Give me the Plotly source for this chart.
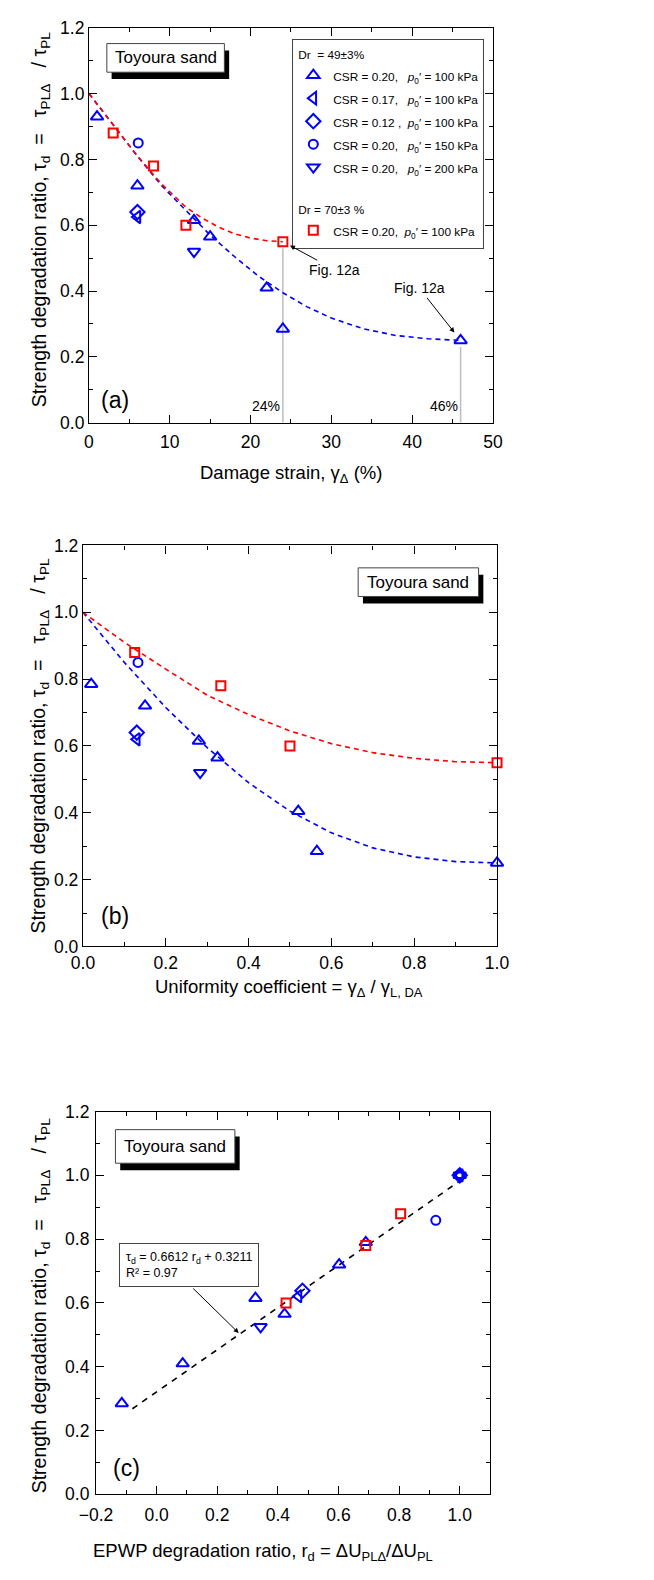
import plotly.graph_objects as go

# ---------------- DATA ----------------
# Panel (a): damage strain (%) vs strength degradation ratio
a_up_x = [1, 6, 13, 15, 22, 24, 46]
a_up_y = [0.93, 0.72, 0.615, 0.565, 0.41, 0.285, 0.25]
a_left_x = [6]
a_left_y = [0.625]
a_dia_x = [6]
a_dia_y = [0.64]
a_circ_x = [6.1]
a_circ_y = [0.85]
a_down_x = [13]
a_down_y = [0.52]
a_sq_x = [3, 8, 12, 24]
a_sq_y = [0.88, 0.78, 0.60, 0.55]
# trend curves
a_blue_fit_x = [0, 3, 6, 9, 12, 15, 18, 21, 24, 27, 30, 34, 38, 42, 46]
a_blue_fit_y = [1.0, 0.905, 0.81, 0.72, 0.645, 0.57, 0.505, 0.445, 0.395, 0.352, 0.318, 0.285, 0.265, 0.255, 0.25]
a_red_fit_x = [0, 3, 6, 9, 12, 14, 16, 18, 20, 22, 24]
a_red_fit_y = [1.0, 0.905, 0.81, 0.725, 0.655, 0.622, 0.595, 0.574, 0.561, 0.553, 0.55]

# Panel (b): uniformity coefficient
b_up_x = [0.02, 0.15, 0.28, 0.325, 0.52, 0.565, 1.0]
b_up_y = [0.785, 0.72, 0.615, 0.565, 0.405, 0.285, 0.25]
b_left_x = [0.13]
b_left_y = [0.62]
b_dia_x = [0.13]
b_dia_y = [0.64]
b_circ_x = [0.133]
b_circ_y = [0.85]
b_down_x = [0.283]
b_down_y = [0.52]
b_sq_x = [0.125, 0.333, 0.5, 1.0]
b_sq_y = [0.88, 0.78, 0.60, 0.55]
b_blue_fit_x = [0, 0.1, 0.2, 0.3, 0.4, 0.5, 0.6, 0.7, 0.8, 0.9, 1.0]
b_blue_fit_y = [1.0, 0.85, 0.715, 0.595, 0.49, 0.405, 0.34, 0.295, 0.268, 0.254, 0.25]
b_red_fit_x = [0, 0.1, 0.2, 0.3, 0.4, 0.5, 0.6, 0.7, 0.8, 0.9, 1.0]
b_red_fit_y = [1.0, 0.91, 0.83, 0.752, 0.694, 0.645, 0.607, 0.58, 0.563, 0.553, 0.55]

# Panel (c): EPWP degradation ratio
c_up_x = [-0.115, 0.086, 0.326, 0.422, 0.602, 0.69, 1.0]
c_up_y = [0.285, 0.41, 0.615, 0.565, 0.72, 0.79, 1.0]
c_left_x = [0.468, 1.0]
c_left_y = [0.621, 1.0]
c_dia_x = [0.481, 1.0]
c_dia_y = [0.638, 1.0]
c_circ_x = [0.921, 1.0]
c_circ_y = [0.859, 1.0]
c_down_x = [0.343, 1.0]
c_down_y = [0.525, 1.0]
c_sq_x = [0.427, 0.69, 0.805]
c_sq_y = [0.60, 0.78, 0.88]
fit_slope = 0.6612
fit_intercept = 0.3211
fit_r2 = 0.97
fit_x_range = [-0.08, 1.0]

group1_title = "Dr  = 49±3%"
group2_title = "Dr = 70±3 %"
legend_csr = ["0.20,  ", "0.17,  ", "0.12 , ", "0.20,  ", "0.20,  ", "0.20, "]
legend_p0 = ["100", "100", "100", "150", "200", "100"]

# ---------------- STYLE ----------------
W, H = 654, 1580
FONT = "Liberation Sans, Arial, sans-serif"
BLUE = "#0000FF"
RED = "#FF0000"
LEG_FS = 11.8


def px(x):
    return x / W


def py(y):
    return 1 - y / H


def leg_name(i):
    return (f'<span style="font-size:{LEG_FS}px">CSR = {legend_csr[i]} '
            f'<i>p</i><sub>0</sub>′ = {legend_p0[i]} kPa</span>')


fig = go.Figure()

sym = {
    "up": "triangle-up-open",
    "left": "triangle-left-open",
    "dia": "diamond-open",
    "circ": "circle-open",
    "down": "triangle-down-open",
    "sq": "square-open",
}
sizes = {"up": 11, "left": 11, "dia": 11, "circ": 9, "down": 11, "sq": 9}


def add_pts(x, y, kind, color, xa, ya, name=None, show=False, group=None, gtitle=None):
    fig.add_trace(go.Scatter(
        x=x, y=y, mode="markers", xaxis=xa, yaxis=ya,
        marker=dict(symbol=sym[kind], size=sizes[kind], color=color,
                    line=dict(color=color, width=2)),
        name=name or "", showlegend=show, legendgroup=group,
        legendgrouptitle=dict(text=gtitle, font=dict(size=LEG_FS, family=FONT, color="black")) if gtitle else None,
        cliponaxis=False,
    ))


def add_line(x, y, color, xa, ya, dash="5px,4px"):
    fig.add_trace(go.Scatter(x=x, y=y, mode="lines", xaxis=xa, yaxis=ya,
                             line=dict(color=color, width=1.6, dash=dash),
                             showlegend=False, hoverinfo="skip"))


# Panel a
add_line(a_blue_fit_x, a_blue_fit_y, BLUE, "x", "y")
add_line(a_red_fit_x, a_red_fit_y, RED, "x", "y")
add_pts(a_up_x, a_up_y, "up", BLUE, "x", "y", leg_name(0), True, "g1", group1_title)
add_pts(a_left_x, a_left_y, "left", BLUE, "x", "y", leg_name(1), True, "g1")
add_pts(a_dia_x, a_dia_y, "dia", BLUE, "x", "y", leg_name(2), True, "g1")
add_pts(a_circ_x, a_circ_y, "circ", BLUE, "x", "y", leg_name(3), True, "g1")
add_pts(a_down_x, a_down_y, "down", BLUE, "x", "y", leg_name(4), True, "g1")
add_pts(a_sq_x, a_sq_y, "sq", RED, "x", "y", leg_name(5), True, "g2", group2_title)

# Panel b
add_line(b_blue_fit_x, b_blue_fit_y, BLUE, "x2", "y2")
add_line(b_red_fit_x, b_red_fit_y, RED, "x2", "y2")
add_pts(b_up_x, b_up_y, "up", BLUE, "x2", "y2")
add_pts(b_left_x, b_left_y, "left", BLUE, "x2", "y2")
add_pts(b_dia_x, b_dia_y, "dia", BLUE, "x2", "y2")
add_pts(b_circ_x, b_circ_y, "circ", BLUE, "x2", "y2")
add_pts(b_down_x, b_down_y, "down", BLUE, "x2", "y2")
add_pts(b_sq_x, b_sq_y, "sq", RED, "x2", "y2")

# Panel c
fit_y = [fit_slope * v + fit_intercept for v in fit_x_range]
add_line(fit_x_range, fit_y, "black", "x3", "y3", dash="6px,6px")
add_pts(c_up_x, c_up_y, "up", BLUE, "x3", "y3")
add_pts(c_left_x, c_left_y, "left", BLUE, "x3", "y3")
add_pts(c_dia_x, c_dia_y, "dia", BLUE, "x3", "y3")
add_pts(c_circ_x, c_circ_y, "circ", BLUE, "x3", "y3")
add_pts(c_down_x, c_down_y, "down", BLUE, "x3", "y3")
add_pts(c_sq_x, c_sq_y, "sq", RED, "x3", "y3")

# ---------------- AXES ----------------
common = dict(showline=True, linecolor="black", linewidth=1.2, mirror="allticks",
              ticks="inside", ticklen=8, tickwidth=1.2, tickcolor="black",
              showgrid=False, zeroline=False,
              tickfont=dict(size=17.5, color="black", family=FONT),
              minor=dict(ticks="inside", ticklen=4, tickwidth=1.2, tickcolor="black", showgrid=False))

yaxis_common = dict(common, range=[0, 1.2], tick0=0, dtick=0.2, tickformat=".1f")

fig.update_layout(
    xaxis=dict(common, domain=[px(75.3), px(498)], range=[0, 50], tick0=0, dtick=10,
               minor=dict(common["minor"], dtick=5), anchor="y", ticklabelstandoff=3),
    yaxis=dict(yaxis_common, domain=[py(418), py(18)], minor=dict(common["minor"], dtick=0.1), anchor="x"),
    xaxis2=dict(common, domain=[px(69), px(502.3)], range=[0, 1.0], tick0=0, dtick=0.2,
                tickformat=".1f", minor=dict(common["minor"], dtick=0.1), anchor="y2"),
    yaxis2=dict(yaxis_common, domain=[py(948.5), py(542.3)], minor=dict(common["minor"], dtick=0.1), anchor="x2"),
    xaxis3=dict(common, domain=[px(82.7), px(495)], range=[-0.2, 1.1], tick0=-0.2, dtick=0.2,
                tickformat=".1f", minor=dict(common["minor"], dtick=0.1), anchor="y3", ticklabelstandoff=5),
    yaxis3=dict(yaxis_common, domain=[py(1503.3), py(1115.7)], minor=dict(common["minor"], dtick=0.1),
                anchor="x3", ticklabelstandoff=2),
)

# ---------------- DECORATIONS ----------------
shapes = []
annotations = []


def txt(x, y, text, size, **kw):
    d = dict(x=px(x), y=py(y), xref="paper", yref="paper", text=text, showarrow=False,
             xanchor="center", yanchor="middle", font=dict(size=size, family=FONT, color="black"))
    d.update(kw)
    annotations.append(d)


ytitle = "Strength degradation ratio, τ<sub>d</sub>  =   τ<sub>PLΔ</sub>   / τ<sub>PL</sub>"
for yc in (212, 745, 1312):
    txt(24, yc, ytitle, 19.5, textangle=-90)

txt(287, 470, "Damage strain, γ<sub>Δ</sub> (%)", 18.5)
txt(285, 991, "Uniformity coefficient = γ<sub>Δ</sub> / γ<sub>L, DA</sub>", 18.5)
txt(257, 1562, "EPWP degradation ratio, r<sub>d</sub> = ΔU<sub>PLΔ</sub>/ΔU<sub>PL</sub>", 18.5)

# panel letters
txt(103, 395, "(a)", 23)
txt(103, 918, "(b)", 23)
txt(115, 1477, "(c)", 23)

# Toyoura sand boxes (with drop shadow)
for (x0, y0, x1, y1) in [(94, 34, 217, 63), (357, 565, 483, 594), (103, 1134, 228, 1168)]:
    shapes.append(dict(type="rect", xref="paper", yref="paper", x0=px(x0 + 5), x1=px(x1 + 5),
                       y0=py(y1 + 7), y1=py(y0 + 7), fillcolor="black", line=dict(width=0), layer="above"))
    shapes.append(dict(type="rect", xref="paper", yref="paper", x0=px(x0), x1=px(x1),
                       y0=py(y1), y1=py(y0), fillcolor="white", line=dict(color="#444", width=1), layer="above"))
    txt((x0 + x1) / 2, (y0 + y1) / 2, "Toyoura sand", 17)

# reference lines at 24% and 46%
for xv, yv, lbl in [(a_sq_x[-1], a_sq_y[-1], "24%"), (a_up_x[-1], a_up_y[-1], "46%")]:
    shapes.append(dict(type="line", xref="x", yref="y", x0=xv, x1=xv, y0=0, y1=yv - 0.02,
                       line=dict(color="#bdbdbd", width=1.5), layer="below"))
    annotations.append(dict(x=xv, y=0.05, xref="x", yref="y", text=lbl, showarrow=False,
                            xanchor="right", yanchor="middle", xshift=-1,
                            font=dict(size=14, family=FONT, color="black")))

# Fig. 12a pointers
annotations.append(dict(x=a_sq_x[-1], y=a_sq_y[-1], xref="x", yref="y", text="Fig. 12a",
                        showarrow=True, ax=52, ay=28, axref="pixel", ayref="pixel",
                        arrowhead=2, arrowsize=1, arrowwidth=1, arrowcolor="black", standoff=8,
                        font=dict(size=14, family=FONT, color="black")))
annotations.append(dict(x=a_up_x[-1], y=a_up_y[-1], xref="x", yref="y", text="Fig. 12a",
                        showarrow=True, ax=-41, ay=-52, axref="pixel", ayref="pixel",
                        arrowhead=2, arrowsize=1, arrowwidth=1, arrowcolor="black", standoff=10,
                        font=dict(size=14, family=FONT, color="black")))

# regression equation box
annotations.append(dict(x=px(107), y=py(1249), xref="paper", yref="paper", xanchor="left", yanchor="top",
                        text=f"τ<sub>d</sub> = {fit_slope} r<sub>d</sub> + {fit_intercept}<br>R² = {fit_r2}",
                        align="left", showarrow=False, bgcolor="white", bordercolor="#444", borderwidth=1,
                        borderpad=6, font=dict(size=12.5, family=FONT, color="black")))
annotations.append(dict(x=px(232), y=py(1340), xref="paper", yref="paper", text="",
                        showarrow=True, ax=-47, ay=-46, axref="pixel", ayref="pixel",
                        arrowhead=2, arrowsize=1, arrowwidth=1, arrowcolor="black"))

fig.update_layout(
    width=W, height=H, margin=dict(l=0, r=0, t=0, b=0),
    paper_bgcolor="white", plot_bgcolor="white",
    font=dict(family=FONT, color="black"),
    shapes=shapes, annotations=annotations,
    legend=dict(x=px(489), y=py(29), xanchor="right", yanchor="top", bgcolor="white",
                bordercolor="#444", borderwidth=1, font=dict(size=15.4, family=FONT, color="black"),
                traceorder="grouped", tracegroupgap=21, itemwidth=30,
                grouptitlefont=dict(size=LEG_FS, family=FONT, color="black")),
)

fig.write_html("out.html", config={"displayModeBar": False},
               post_script="document.body.style.margin='0px';")
